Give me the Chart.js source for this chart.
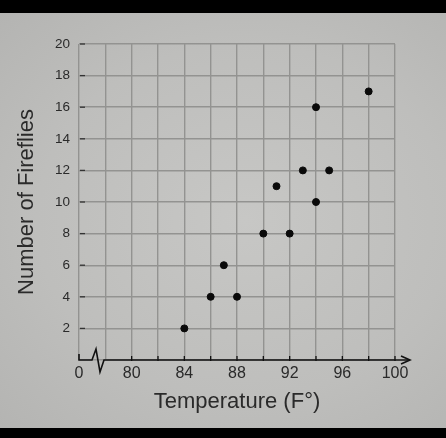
<!DOCTYPE html>
<html>
<head>
<meta charset="utf-8">
<script src="https://cdn.jsdelivr.net/npm/chart.js@4.4.1/dist/chart.umd.min.js"></script>
<style>
    html, body { margin: 0; padding: 0; background: #000; width: 446px; height: 438px; overflow: hidden; }
    #wrap {
        position: absolute; left: 0; top: 13px; width: 446px; height: 415px;
        background: radial-gradient(ellipse at 55% 50%, #c7c7c5 0%, #bebebc 60%, #b4b4b2 100%);
    }
</style>
</head>
<body>
<div id="wrap"><canvas id="fireflyChart"></canvas></div>
<script>
// temperature (F) and firefly counts
const temperatures = [84, 86, 87, 88, 90, 91, 92, 93, 94, 94, 95, 98];
const fireflies = [2, 4, 6, 4, 8, 11, 8, 12, 16, 10, 12, 17];
const xTickLabels = [80, 84, 88, 92, 96, 100];
const xBreakLabel = '0';

const gridColor = '#939391';
const textColor = '#2a2a2a';
const fontFamily = "'Liberation Sans', Arial, sans-serif";

// hand-drawn style axis: broken x axis with arrow, small ticks
const axisDecor = {
    id: 'axisDecor',
    afterDraw(chart) {
        const ctx = chart.ctx;
        const area = chart.chartArea;
        const x = chart.scales.x;
        const y = chart.scales.y;
        const y0 = y.getPixelForValue(0);
        const left = area.left;
        const right = area.right;

        ctx.save();
        ctx.strokeStyle = '#111';
        ctx.lineWidth = 1.6;

        // axis line with break mark
        ctx.beginPath();
        ctx.moveTo(left, y0 - 6);
        ctx.lineTo(left, y0);
        ctx.lineTo(left + 13, y0);
        ctx.lineTo(left + 17, y0 - 11);
        ctx.lineTo(left + 21, y0 + 12);
        ctx.lineTo(left + 25, y0);
        ctx.lineTo(right + 14, y0);
        ctx.stroke();

        // arrow head
        ctx.beginPath();
        ctx.moveTo(right + 6, y0 - 4);
        ctx.lineTo(right + 15, y0);
        ctx.lineTo(right + 6, y0 + 4);
        ctx.stroke();

        // x ticks
        ctx.lineWidth = 1.3;
        x.ticks.forEach(t => {
            if (t.value <= x.min + 2) return;
            const px = x.getPixelForValue(t.value);
            ctx.beginPath();
            ctx.moveTo(px, y0 - 4);
            ctx.lineTo(px, y0 + 1);
            ctx.stroke();
        });

        // y ticks
        ctx.strokeStyle = '#333';
        y.ticks.forEach(t => {
            if (t.value === 0) return;
            const py = y.getPixelForValue(t.value);
            ctx.beginPath();
            ctx.moveTo(left + 1, py);
            ctx.lineTo(left + 6, py);
            ctx.stroke();
        });
        ctx.restore();
    }
};

new Chart(document.getElementById('fireflyChart'), {
    type: 'scatter',
    data: {
        datasets: [{
            label: 'Fireflies',
            data: temperatures.map((t, i) => ({ x: t, y: fireflies[i] })),
            backgroundColor: '#0a0a0a',
            borderColor: '#0a0a0a',
            pointRadius: 3.5,
            pointHoverRadius: 3.5
        }]
    },
    options: {
        responsive: true,
        maintainAspectRatio: false,
        animation: false,
        layout: { padding: { top: 31, right: 51, left: 0, bottom: 0 } },
        plugins: {
            legend: { display: false },
            tooltip: { enabled: false }
        },
        scales: {
            x: {
                type: 'linear',
                min: 76,
                max: 100,
                afterFit(scale) { scale.height = 68; },
                grid: { color: gridColor, lineWidth: 1.4, drawTicks: false },
                border: { display: false },
                ticks: {
                    stepSize: 2,
                    autoSkip: false,
                    maxRotation: 0,
                    padding: 4,
                    color: textColor,
                    font: { family: fontFamily, size: 16 },
                    callback(value) {
                        if (value === 76) return xBreakLabel;
                        return xTickLabels.includes(value) ? String(value) : '';
                    }
                },
                title: {
                    display: true,
                    text: 'Temperature (F°)',
                    color: textColor,
                    font: { family: fontFamily, size: 22 },
                    padding: { top: 0, bottom: 13 }
                }
            },
            y: {
                min: 0,
                max: 20,
                afterFit(scale) { scale.width = 79; },
                grid: { color: gridColor, lineWidth: 1.4, drawTicks: false },
                border: { display: false },
                ticks: {
                    stepSize: 2,
                    padding: 9,
                    color: textColor,
                    font: { family: fontFamily, size: 13.5 },
                    callback(value) { return value === 0 ? '' : String(value); }
                },
                title: {
                    display: true,
                    text: 'Number of Fireflies',
                    color: textColor,
                    font: { family: fontFamily, size: 22 },
                    padding: { top: 14, bottom: 0 }
                }
            }
        }
    },
    plugins: [axisDecor]
});
</script>
</body>
</html>
